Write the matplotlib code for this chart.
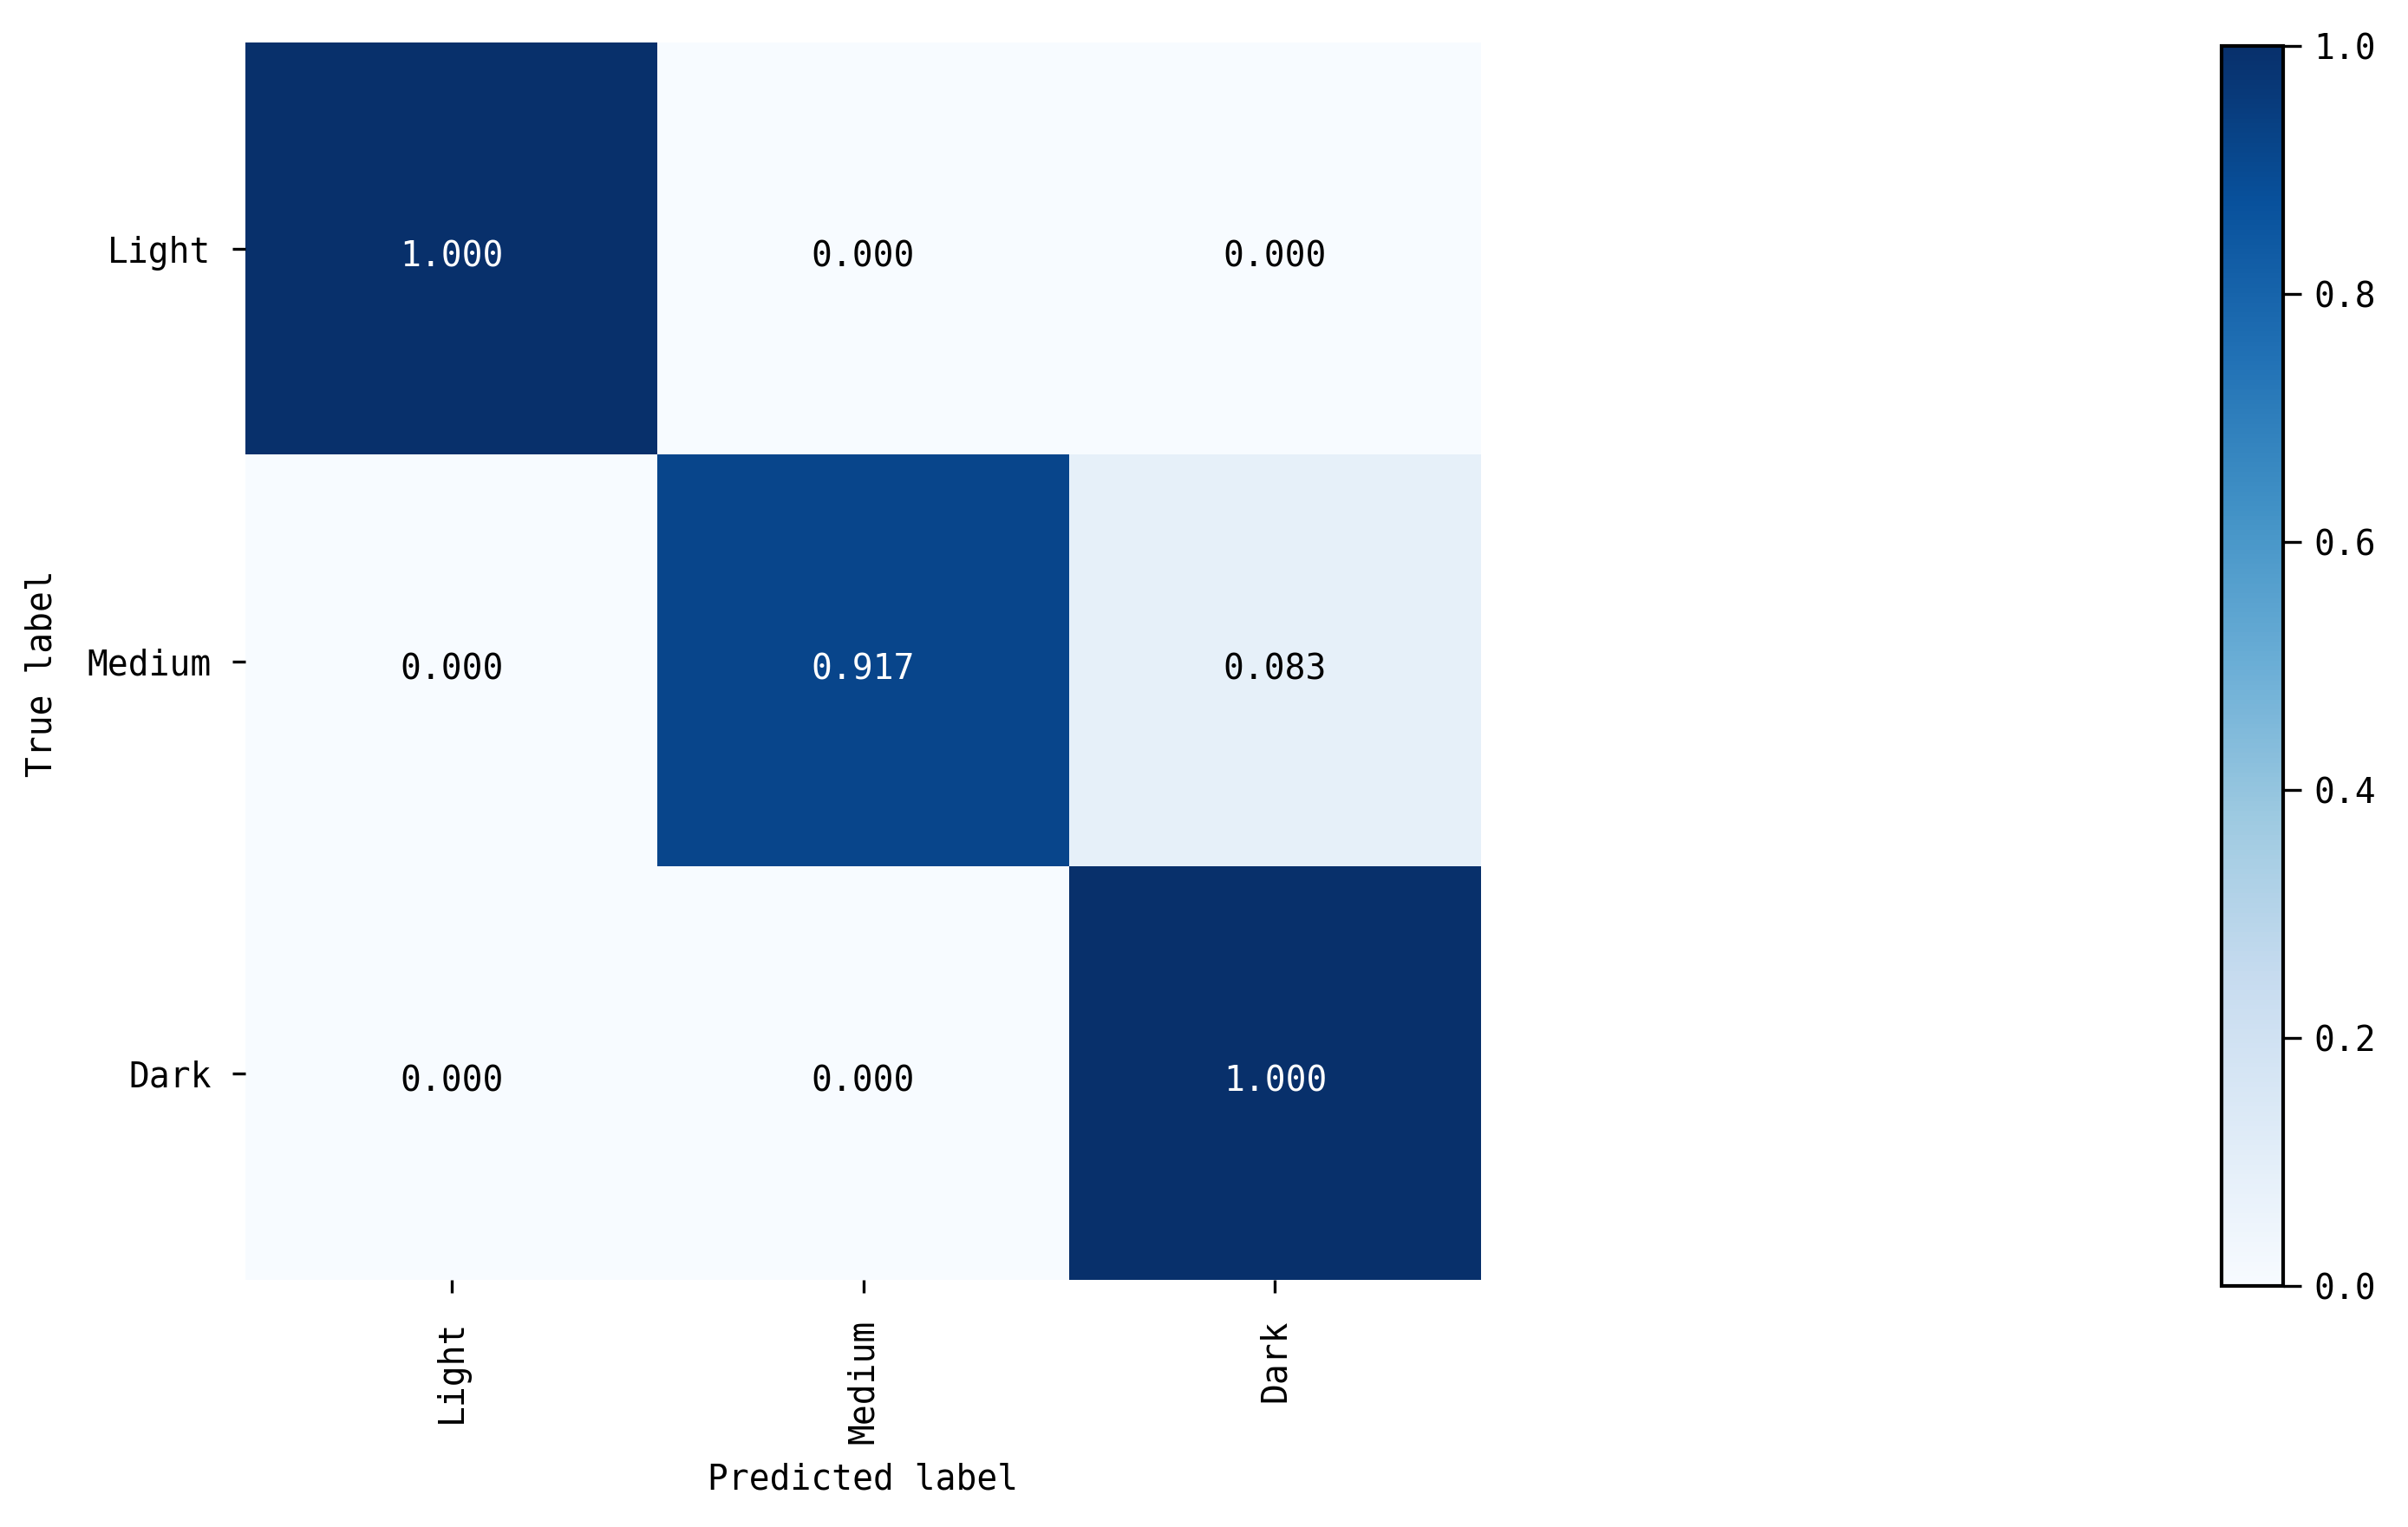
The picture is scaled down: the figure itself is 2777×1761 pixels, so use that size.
import matplotlib
matplotlib.use("Agg")
import matplotlib.pyplot as plt
import numpy as np

# confusion matrix (normalized)
classes = ["Light", "Medium", "Dark"]
cm = np.array([[1.000, 0.000, 0.000],
               [0.000, 0.917, 0.083],
               [0.000, 0.000, 1.000]])
cbar_ticks = [0.0, 0.2, 0.4, 0.6, 0.8, 1.0]

plt.rcParams['font.family'] = ['DejaVu Sans Mono', 'DejaVu Sans']
plt.rcParams['font.size'] = 9.5

fig = plt.figure(figsize=(2777 / 300, 1761 / 300), dpi=300)
ax = fig.add_axes([0.102, 0.162, 0.513, 0.810])
cax = fig.add_axes([0.9226, 0.158, 0.0255, 0.812])

im = ax.imshow(cm, interpolation='nearest', cmap=plt.cm.Blues,
               vmin=0, vmax=1, aspect='auto')
cb = fig.colorbar(im, cax=cax, ticks=cbar_ticks)
cb.ax.set_yticklabels(["%.1f" % t for t in cbar_ticks])
cb.outline.set_linewidth(1.0)
cb.ax.tick_params(length=5, width=0.8)

ax.set_xticks(np.arange(len(classes)))
ax.set_yticks(np.arange(len(classes)))
ax.set_xticklabels(classes, rotation=90)
ax.set_yticklabels(classes)
ax.tick_params(axis='y', pad=6)
ax.tick_params(axis='x', pad=7.5)
for s in ax.spines.values():
    s.set_visible(False)

thresh = cm.max() / 2.
for i in range(cm.shape[0]):
    for j in range(cm.shape[1]):
        ax.text(j, i + 0.02, format(cm[i, j], '.3f'),
                ha="center", va="center",
                color="white" if cm[i, j] > thresh else "black")

ax.set_ylabel('True label')
ax.set_xlabel('Predicted label')
ax.xaxis.set_label_coords(0.5, -0.148)
ax.yaxis.set_label_coords(-0.151, 0.49)

fig.savefig("out.png", dpi=300)
